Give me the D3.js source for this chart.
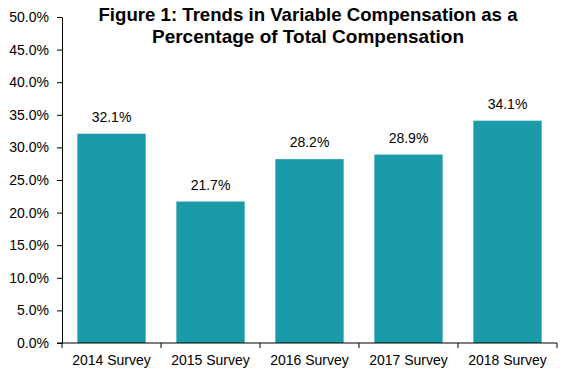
<!DOCTYPE html>
<html lang="en">
<head>
<meta charset="utf-8">
<script src="https://d3js.org/d3.v7.min.js"></script>
<style>
  body { margin: 0; background: #fff; }
  svg { font-family: 'Liberation Sans', Arial, sans-serif; }
  .axis path, .axis line { stroke: #000; }
  .axis text { font-size: 14px; fill: #000; }
  .label { font-size: 14px; fill: #000; text-anchor: middle; }
  .title { font-size: 18.5px; font-weight: bold; text-anchor: middle; }
</style>
</head>
<body>
<svg id="chart" width="570" height="378"></svg>
<script>
var surveys = ["2014 Survey", "2015 Survey", "2016 Survey", "2017 Survey", "2018 Survey"];
var variablePct = [32.1, 21.7, 28.2, 28.9, 34.1];
var yTicks = [0, 5, 10, 15, 20, 25, 30, 35, 40, 45, 50];
var titleLines = ["Figure 1: Trends in Variable Compensation as a", "Percentage of Total Compensation"];

var svg = d3.select("#chart");
var margin = {top: 17, right: 13, bottom: 35, left: 62};
var width = 570 - margin.left - margin.right,
    height = 378 - margin.top - margin.bottom;

var g = svg.append("g").attr("transform", "translate(" + margin.left + "," + margin.top + ")");

var x = d3.scaleBand().domain(surveys).range([0, width]).paddingInner(0.31).paddingOuter(0.155);
var y = d3.scaleLinear().domain([0, 50]).range([height, 0]);

// bars
g.selectAll(".bar")
  .data(variablePct)
  .enter().append("rect")
  .attr("class", "bar")
  .attr("x", function(d, i) { return x(surveys[i]); })
  .attr("y", function(d) { return y(d); })
  .attr("width", x.bandwidth())
  .attr("height", function(d) { return height - y(d); })
  .attr("fill", "#1b9baa");

g.selectAll(".label")
  .data(variablePct)
  .enter().append("text")
  .attr("class", "label")
  .attr("x", function(d, i) { return x(surveys[i]) + x.bandwidth() / 2; })
  .attr("y", function(d) { return y(d) - 12; })
  .text(function(d) { return d.toFixed(1) + "%"; });

// y axis
var yAxis = g.append("g").attr("class", "axis")
  .call(d3.axisLeft(y).tickValues(yTicks).tickSize(5).tickSizeOuter(0)
    .tickFormat(function(d) { return d.toFixed(1) + "%"; }));
yAxis.selectAll("text").attr("x", -13);

// x axis: ticks at band boundaries
var xAxis = g.append("g").attr("class", "axis")
  .attr("transform", "translate(0," + height + ")");
xAxis.append("line").attr("x1", -5).attr("x2", width).attr("stroke", "#000");
var step = x.step();
var bounds = d3.range(surveys.length + 1).map(function(i) { return x(surveys[0]) - x.step() * x.paddingOuter() + i * step; });
xAxis.selectAll(".xt").data(bounds).enter().append("line")
  .attr("x1", function(d) { return d; }).attr("x2", function(d) { return d; })
  .attr("y1", 0).attr("y2", 5).attr("stroke", "#000");
xAxis.selectAll(".xl").data(surveys).enter().append("text")
  .attr("x", function(d) { return x(d) + x.bandwidth() / 2; })
  .attr("y", 22)
  .attr("text-anchor", "middle")
  .text(function(d) { return d; });

// title
var titleWidths = [419, 312];
svg.selectAll(".title").data(titleLines).enter().append("text")
  .attr("class", "title")
  .attr("x", 308)
  .attr("y", function(d, i) { return 21 + i * 21.5; })
  .attr("textLength", function(d, i) { return titleWidths[i]; })
  .attr("lengthAdjust", "spacingAndGlyphs")
  .text(function(d) { return d; });
</script>
</body>
</html>
